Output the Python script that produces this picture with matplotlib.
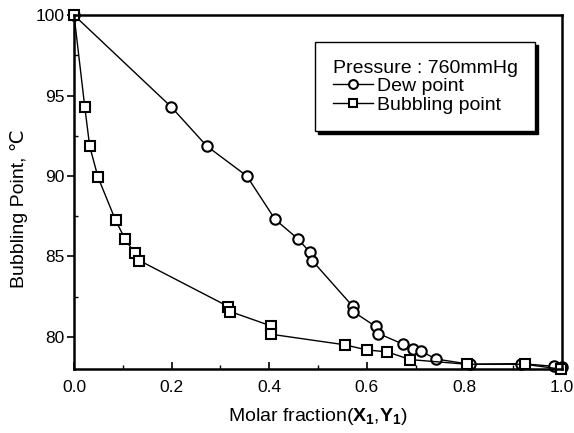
import matplotlib
matplotlib.use('Agg')
import matplotlib.pyplot as plt
from matplotlib.ticker import MultipleLocator

plt.rcParams['font.family'] = ['Liberation Sans', 'DejaVu Sans']
plt.rcParams['mathtext.fontset'] = 'custom'
plt.rcParams['mathtext.rm'] = 'Liberation Sans'
plt.rcParams['mathtext.bf'] = 'Liberation Sans:bold'

# Dew point (vapour phase) data
dew_x = [0.0, 0.199, 0.272, 0.354, 0.412, 0.458, 0.484, 0.488, 0.571, 0.572,
         0.618, 0.624, 0.675, 0.694, 0.712, 0.741, 0.811, 0.917, 0.984, 1.0]
dew_y = [100.0, 94.3, 91.86, 90.0, 87.3, 86.11, 85.24, 84.74, 81.9, 81.57,
         80.64, 80.2, 79.53, 79.22, 79.1, 78.62, 78.29, 78.33, 78.16, 78.1]

# Bubbling point (liquid phase) data
bub_x = [0.0, 0.022, 0.032, 0.049, 0.085, 0.105, 0.124, 0.134, 0.316, 0.320,
         0.403, 0.403, 0.555, 0.600, 0.642, 0.689, 0.805, 0.924, 0.999]
bub_y = [100.0, 94.29, 91.86, 89.93, 87.25, 86.05, 85.22, 84.74, 81.88, 81.57,
         80.68, 80.16, 79.5, 79.18, 79.06, 78.58, 78.29, 78.29, 77.98]

fig = plt.figure(figsize=(5.74, 4.33), dpi=100)
ax = fig.add_axes([0.129, 0.148, 0.850, 0.817])

ax.plot(dew_x, dew_y, color='k', lw=1.0, marker='o', ms=7.5, mfc='white',
        mec='k', mew=1.5, label='Dew point', clip_on=False)
ax.plot(bub_x, bub_y, color='k', lw=1.0, marker='s', ms=7.5, mfc='white',
        mec='k', mew=1.5, label='Bubbling point', clip_on=False)

ax.set_xlim(0.0, 1.0)
ax.set_ylim(78.0, 100.0)
ax.xaxis.set_major_locator(MultipleLocator(0.2))
ax.xaxis.set_minor_locator(MultipleLocator(0.1))
ax.yaxis.set_major_locator(MultipleLocator(5))
ax.yaxis.set_minor_locator(MultipleLocator(2.5))
ax.set_xticklabels(['%.1f' % v for v in ax.get_xticks()])

ax.tick_params(axis='x', which='major', direction='in', length=5, width=1.2,
               labelsize=12.5, pad=8)
ax.tick_params(axis='x', which='minor', direction='in', length=3, width=1.0)
ax.tick_params(axis='y', which='major', direction='out', length=5, width=1.2,
               labelsize=12.5, pad=2)
ax.tick_params(axis='y', which='minor', direction='in', length=3, width=1.0)
for s in ax.spines.values():
    s.set_linewidth(1.8)

ax.set_xlabel(r'Molar fraction($\mathbf{X_1}$,$\mathbf{Y_1}$)', fontsize=14,
              labelpad=8)
ax.set_ylabel('Bubbling Point, ℃', fontsize=14)
ax.yaxis.set_label_coords(-0.094, 0.452)

leg = ax.legend(title='Pressure : 760mmHg', loc='upper right',
                bbox_to_anchor=(0.945, 0.924), borderaxespad=0,
                fontsize=14, title_fontsize=14, frameon=True,
                fancybox=False, edgecolor='k', handlelength=2.1,
                markerscale=0.85, borderpad=0.9, labelspacing=0.05,
                handletextpad=0.2, alignment='left',
                shadow={'color': 'k', 'alpha': 1.0})
leg.get_frame().set_linewidth(1.0)

fig.savefig('out.png', dpi=100)
